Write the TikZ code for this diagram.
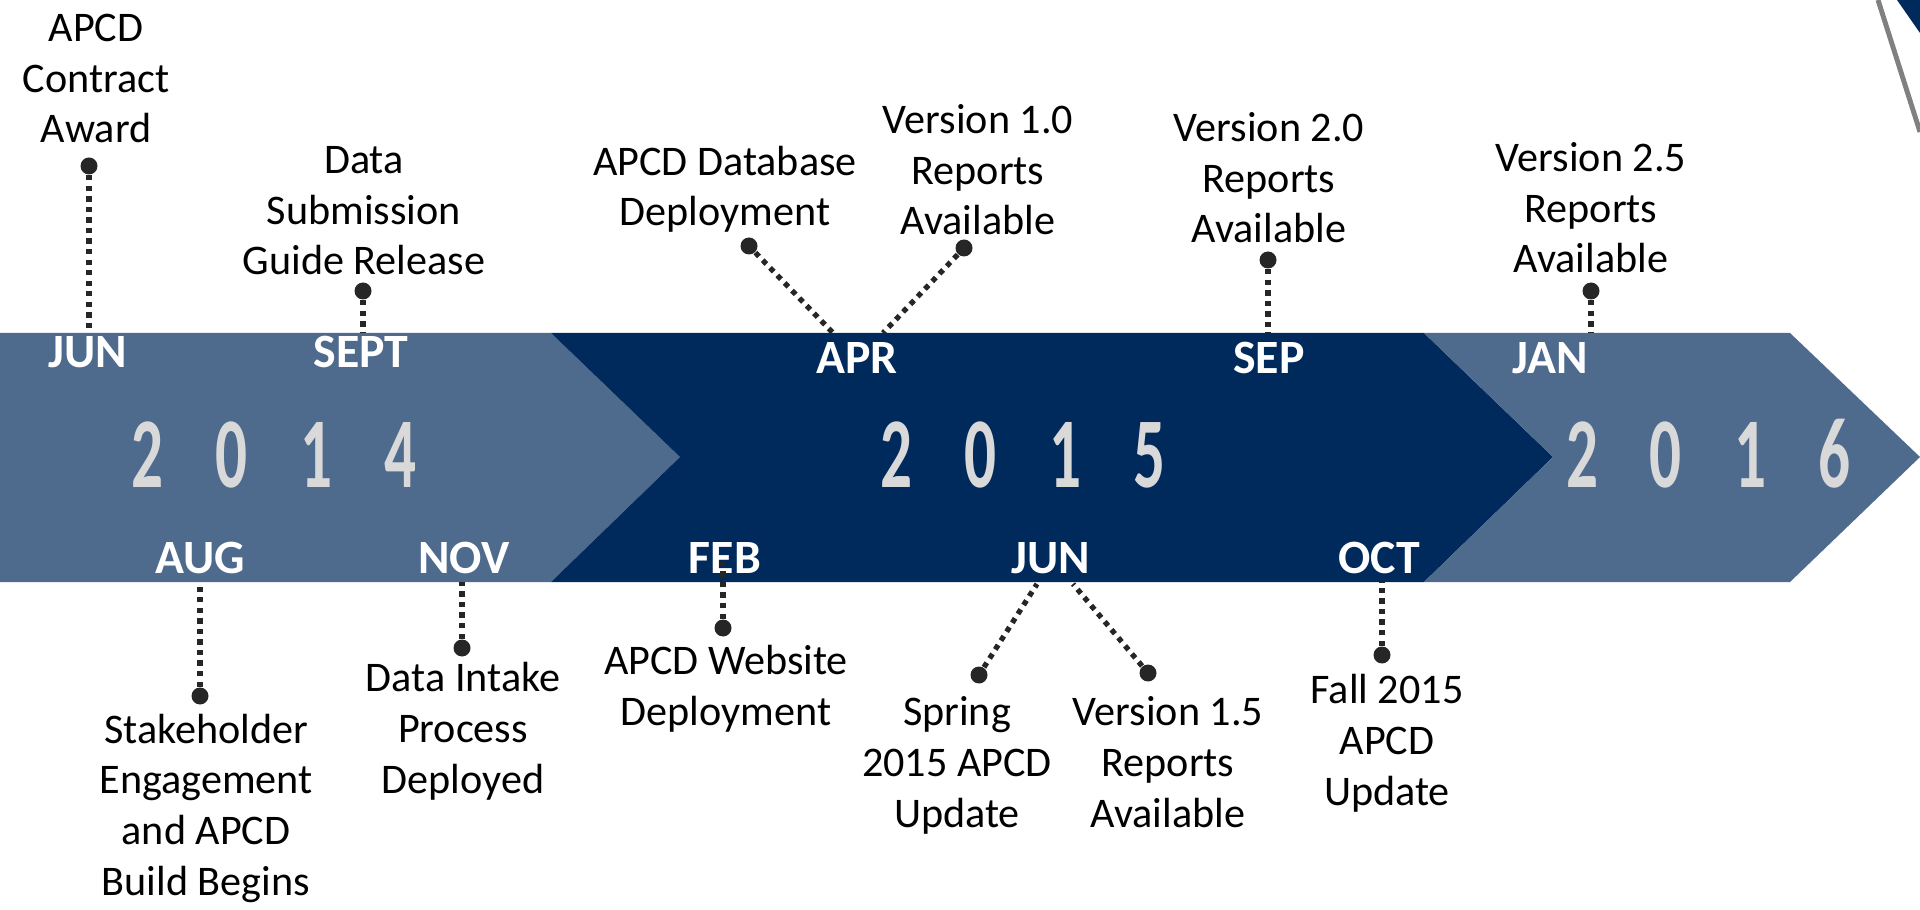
\documentclass[tikz,border=0pt]{standalone}
\usepackage{fontspec}
\setmainfont{Carlito}
\definecolor{bandlight}{RGB}{78,106,141}
\definecolor{banddark}{RGB}{0,42,92}
\definecolor{digitgray}{RGB}{217,217,217}
\definecolor{dotgray}{RGB}{38,38,38}
\newcommand{\yeardigits}[4]{\scalebox{0.63}[1]{#1\hspace{23.5pt}#2\hspace{23.5pt}#3\hspace{23.5pt}#4}}

\begin{document}
\begin{tikzpicture}[
  dot/.style={circle,fill=dotgray,inner sep=0pt,minimum size=0.17cm},
  link/.style={draw=dotgray,line width=1.5pt,dash pattern=on 1.5pt off 1.5pt},
  month/.style={text=white,font=\fontsize{13.6}{15}\selectfont\bfseries,inner sep=0pt,anchor=base},
  event/.style={align=center,font=\fontsize{12}{14.4}\selectfont,inner sep=0pt,anchor=base},
  year/.style={text=digitgray,font=\fontsize{28.5}{30}\selectfont\bfseries,inner sep=0pt,anchor=base}]
\useasboundingbox (0,0) rectangle (19.2,9.09);
% the band
\fill[bandlight] (0,5.76) -- (5.51,5.76) -- (6.80,4.52) -- (5.51,3.27) -- (0,3.27) -- cycle;
\fill[banddark] (5.51,5.76) -- (14.24,5.76) -- (15.53,4.52) -- (14.24,3.27) -- (5.51,3.27) -- (6.80,4.52) -- cycle;
\fill[bandlight] (14.24,5.76) -- (17.90,5.76) -- (19.20,4.52) -- (17.90,3.27) -- (14.24,3.27) -- (15.53,4.52) -- cycle;
% corner
\fill[banddark] (18.97,9.09) -- (19.2,9.09) -- (19.2,8.76) -- cycle;
\draw[gray,line width=1.4pt] (18.78,9.09) -- (19.2,7.77);

\coordinate (top) at (0,5.76);
\coordinate (bot) at (0,3.27);
\coordinate (apra) at (8.33,5.76);
\coordinate (aprb) at (8.83,5.76);
\coordinate (juna) at (10.37,3.25);
\coordinate (junb) at (10.73,3.25);
\coordinate (febt) at (7.23,3.47);

\node[year] (y14) at (2.74,4.21) {\yeardigits{2}{0}{1}{4}};
\node[year] (y15) at (10.23,4.21) {\yeardigits{2}{0}{1}{5}};
\node[year] (y16) at (17.08,4.21) {\yeardigits{2}{0}{1}{6}};

\node[month] (jun14) at (0.88,5.41) {JUN};
\node[month] (sep14) at (3.61,5.41) {SEPT};
\node[month] (apr15) at (8.57,5.35) {APR};
\node[month] (sep15) at (12.69,5.35) {SEP};
\node[month] (jan16) at (15.50,5.35) {JAN};
\node[month] (aug14) at (2.00,3.36) {AUG};
\node[month] (nov14) at (4.64,3.36) {NOV};
\node[month] (feb15) at (7.25,3.36) {FEB};
\node[month] (jun15) at (10.51,3.36) {JUN};
\node[month] (oct15) at (13.79,3.36) {OCT};

\draw (0.89,7.43) node[dot](d1){}   (3.63,6.18) node[dot](d2){}
      (7.49,6.63) node[dot](d3){}   (9.64,6.61) node[dot](d4){}
      (12.68,6.49) node[dot](d5){}  (15.91,6.18) node[dot](d6){};
\draw (2.00,2.13) node[dot](d7){}   (4.62,2.61) node[dot](d8){}
      (7.23,2.81) node[dot](d9){}   (9.79,2.34) node[dot](d10){}
      (11.48,2.36) node[dot](d11){} (13.82,2.54) node[dot](d12){};
\path[link]
    (d1) edge (d1 |- top)
    (d2) edge (d2 |- top)
    (d3) edge (apra)
    (d4) edge (aprb)
    (d5) edge (d5 |- top)
    (d6) edge (d6 |- top)
    (d7) edge (d7 |- bot)
    (d8) edge (d8 |- bot)
    (d9) edge (febt)
    (d10) edge (juna)
    (d11) edge (junb)
    (d12) edge (d12 |- bot);

\node[event] (t1) at (0.96,7.66) {APCD\\Contract\\Award};
\node[event] (t2) at (3.64,6.34) {Data\\Submission\\Guide Release};
\node[event] (t3) at (7.25,6.83) {APCD Database\\Deployment};
\node[event] (t4) at (9.78,6.74) {Version 1.0\\Reports\\Available};
\node[event] (t5) at (12.69,6.66) {Version 2.0\\Reports\\Available};
\node[event] (t6) at (15.91,6.36) {Version 2.5\\Reports\\Available};
\node[event] (b1) at (2.06,0.14) {Stakeholder\\Engagement\\and APCD\\Build Begins};
\node[event] (b2) at (4.63,1.16) {Data Intake\\Process\\Deployed};
\node[event] (b3) at (7.26,1.84) {APCD Website\\Deployment};
\node[event] (b4) at (9.57,0.82) {Spring\\2015 APCD\\Update};
\node[event] (b5) at (11.68,0.82) {Version 1.5\\Reports\\Available};
\node[event] (b6) at (13.87,1.04) {Fall 2015\\APCD\\Update};
\end{tikzpicture}
\end{document}
